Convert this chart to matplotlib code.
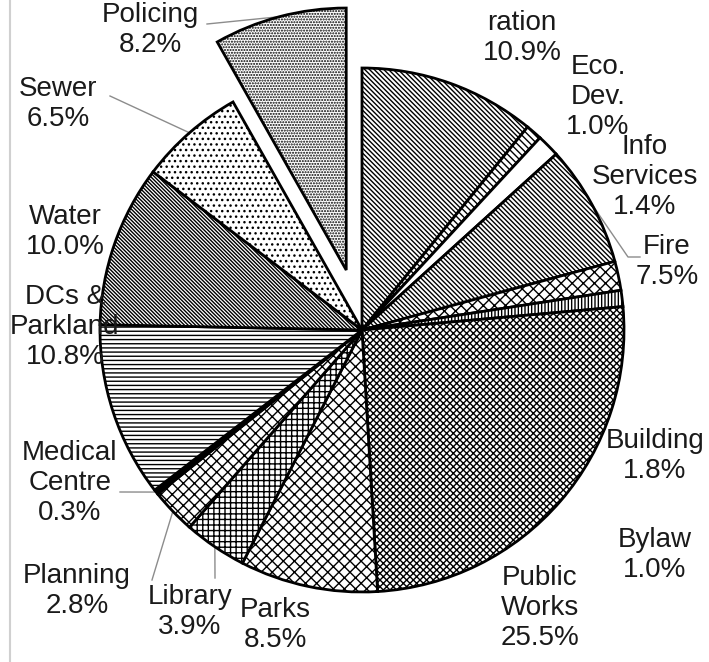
import matplotlib
matplotlib.use("Agg")
import matplotlib.pyplot as plt
import numpy as np

plt.rcParams['font.family'] = ['Liberation Sans', 'DejaVu Sans']
plt.rcParams['hatch.linewidth'] = 1.0

# budget shares, clockwise from 12 o'clock
labels = ['ration\n10.9%', 'Eco.\nDev.\n1.0%', 'Info\nServices\n1.4%', 'Fire\n7.5%',
          'Building\n1.8%', 'Bylaw\n1.0%', 'Public\nWorks\n25.5%', 'Parks\n8.5%',
          'Library\n3.9%', 'Planning\n2.8%', 'Medical\nCentre\n0.3%',
          'DCs &\nParkland\n10.8%', 'Water\n10.0%', 'Sewer\n6.5%', 'Policing\n8.2%']
shares = [10.9, 1.0, 1.4, 7.5, 1.8, 1.0, 25.5, 8.5, 3.9, 2.8, 0.3, 10.8, 10.0, 6.5, 8.2]
hatches = ['\\' * 7, '\\' * 5, '', '\\' * 7, 'xxx', '|' * 5, 'x' * 5, 'xxx', '+++',
           'xxx', '', '----', '\\' * 9, '...', '......']
fills = ['white'] * len(shares)
fills[10] = 'black'
explode = [0] * len(shares)
explode[14] = 62

W, H = 709, 662
cx, cy, R = 362, H - 330, 262

# label positions in pixels (x, y from top)
lab_x = [522, 598, 645, 667, 655, 655, 540, 275, 190, 77, 70, 65, 65, 58, 150]
lab_y = [38, 97, 177, 262, 456, 555, 608, 625, 612, 591, 483, 327, 232, 104, 30]

fig = plt.figure(figsize=(W / 100, H / 100), dpi=100)
ax = fig.add_axes([0, 0, 1, 1])
wedges, _ = ax.pie(shares, startangle=90, counterclock=False, center=(cx, cy),
                   radius=R, explode=explode, colors=fills,
                   wedgeprops=dict(edgecolor='black', linewidth=2))
for w, h in zip(wedges, hatches):
    w.set_hatch(h)

ax.set_xlim(0, W)
ax.set_ylim(0, H)
ax.set_aspect('auto')
ax.axis('off')

for t, x, y in zip(labels, lab_x, lab_y):
    ax.text(x, H - y, t, ha='center', va='center', fontsize=20, color='#1a1a1a')

# leader lines: from wedge edge to the label
def edge_point(i):
    w = wedges[i]
    a = np.radians((w.theta1 + w.theta2) / 2)
    x0, y0 = w.center
    return x0 + R * np.cos(a), y0 + R * np.sin(a)

leaders = {3: [(628, 257), (640, 257)], 14: [(207, 24)], 13: [(110, 96)],
           10: [(120, 492)], 9: [(152, 580)], 8: [(215, 578)]}
for i, pts in leaders.items():
    ex, ey = edge_point(i)
    xs = [ex] + [p[0] for p in pts]
    ys = [ey] + [H - p[1] for p in pts]
    ax.plot(xs, ys, color='#8c8c8c', lw=1, zorder=0.5)

# frame edge on the left
ax.plot([10, 10], [0, H], color='#d0d0d0', lw=1.5)

fig.savefig('out.png', dpi=100)
